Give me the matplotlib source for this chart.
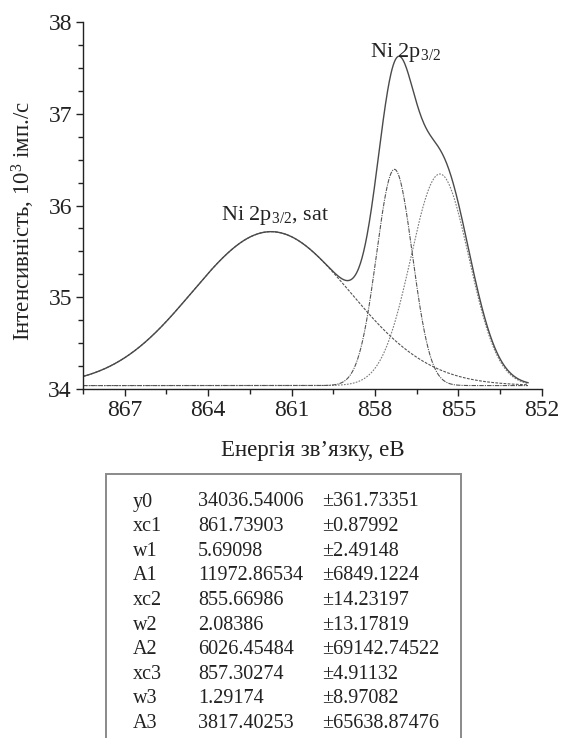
import numpy as np
import matplotlib
matplotlib.use("Agg")
import matplotlib.pyplot as plt
from matplotlib.patches import Rectangle
from matplotlib.ticker import MultipleLocator

plt.rcParams['font.family'] = ['Liberation Serif', 'DejaVu Serif']
plt.rcParams['mathtext.fontset'] = 'custom'
plt.rcParams['mathtext.rm'] = 'Liberation Serif'
plt.rcParams['mathtext.it'] = 'Liberation Serif:italic'
plt.rcParams['mathtext.bf'] = 'Liberation Serif:bold'

# Gaussian fit parameters (Origin "Gauss" form)
y0 = 34036.54006
xc = [861.73903, 855.66986, 857.30274]
w = [5.69098, 2.08386, 1.29174]
A = [11972.86534, 6026.45484, 3817.40253]

param_names = ["y0", "xc1", "w1", "A1", "xc2", "w2", "A2", "xc3", "w3", "A3"]
param_values = ["34036.54006", "861.73903", "5.69098", "11972.86534", "855.66986",
                "2.08386", "6026.45484", "857.30274", "1.29174", "3817.40253"]
param_errors = ["±361.73351", "±0.87992", "±2.49148", "±6849.1224", "±14.23197",
                "±13.17819", "±69142.74522", "±4.91132", "±8.97082", "±65638.87476"]

x_start, x_end = 868.5, 852.5
energy = np.linspace(x_start, x_end, 800)


def gauss(x, xc_, w_, A_):
    return A_ / (w_ * np.sqrt(np.pi / 2)) * np.exp(-2 * ((x - xc_) / w_) ** 2)


comps = [gauss(energy, xc[i], w[i], A[i]) for i in range(3)]
envelope = y0 + sum(comps)

TXT = '#222222'
fig = plt.figure(figsize=(5.61, 7.38), dpi=100)
ax = fig.add_axes([0.148, 0.473, 0.818, 0.497])

# component peaks
ax.plot(energy, (y0 + comps[0]) / 1000, color='#555555', lw=0.8, ls=(0, (2.5, 1.2)))
ax.plot(energy, (y0 + comps[1]) / 1000, color='#7a7a7a', lw=0.8, ls=(0, (1.5, 1.2)))
ax.plot(energy, (y0 + comps[2]) / 1000, color='#555555', lw=0.8, ls=(0, (4, 1, 1, 1)))
# envelope
ax.plot(energy, envelope / 1000, color='#4a4a4a', lw=1.0)

ax.set_xlim(868.5, 852)
ax.set_ylim(34, 38)
ax.xaxis.set_major_locator(MultipleLocator(3))
ax.xaxis.set_minor_locator(MultipleLocator(1.5))
ax.yaxis.set_major_locator(MultipleLocator(1))
ax.yaxis.set_minor_locator(MultipleLocator(0.25))
ax.spines['top'].set_visible(False)
ax.spines['right'].set_visible(False)
for s in ('left', 'bottom'):
    ax.spines[s].set_linewidth(1.0)
    ax.spines[s].set_color(TXT)
ax.tick_params(which='major', length=5, width=1.0, labelsize=17, colors=TXT, pad=3)
ax.tick_params(which='minor', length=3.3, width=1.0, colors=TXT)

ax.set_xlabel("Енергія зв’язку, еВ", fontsize=16.5, color=TXT)
ax.xaxis.set_label_coords(0.5, -0.140)
ax.set_ylabel("Інтенсивність, 10$^3$ імп./с", fontsize=16.5, color=TXT)
ax.yaxis.set_label_coords(-0.100, 0.458)

ax.text(856.9, 37.62, r"Ni 2p$_{3/2}$", fontsize=16, ha='center', va='baseline', color=TXT)
ax.text(861.6, 35.84, r"Ni 2p$_{3/2}$, sat", fontsize=16, ha='center', va='baseline', color=TXT)

# fit parameters box
W, H = 561, 738
fig.add_artist(Rectangle((106 / W, -0.05), (461 - 106) / W, (H - 474) / H + 0.05,
                         transform=fig.transFigure, fill=False, ec='#8a8a8a', lw=1.4))
for i in range(len(param_names)):
    yy = 1 - (502 + i * 24.6) / H
    fig.text(133 / W, yy, param_names[i], fontsize=14.5, va='center', ha='left', color=TXT)
    fig.text(198 / W, yy, param_values[i], fontsize=14.5, va='center', ha='left', color=TXT)
    fig.text(322 / W, yy, param_errors[i], fontsize=14.5, va='center', ha='left', color=TXT)

fig.savefig("out.png", dpi=100)
